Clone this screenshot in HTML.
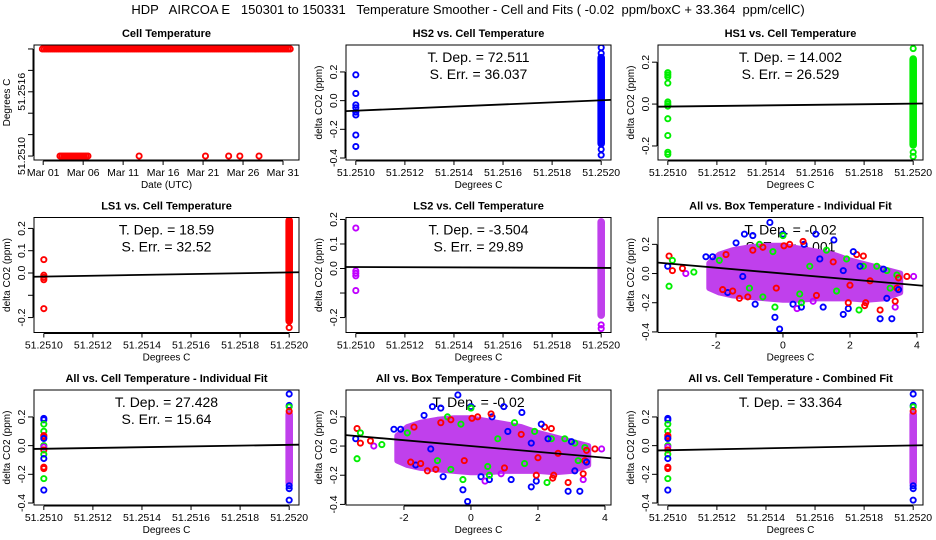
<!DOCTYPE html>
<html><head><meta charset="utf-8">
<style>
html,body{margin:0;padding:0;background:#fff;}
svg{display:block;font-family:"Liberation Sans",sans-serif;}
</style></head>
<body>
<svg id="chart" width="936" height="540" viewBox="0 0 936 540" xmlns="http://www.w3.org/2000/svg">
<rect x="0" y="0" width="936" height="540" fill="#fff"/>
<text x="468" y="14" font-size="13" text-anchor="middle" xml:space="preserve">HDP   AIRCOA E   150301 to 150331   Temperature Smoother - Cell and Fits ( -0.02  ppm/boxC + 33.364  ppm/cellC)</text>
</svg>
<script>
// ---------- data ----------
const cellXTicks = [51.2510, 51.2512, 51.2514, 51.2516, 51.2518, 51.2520];
const cellXTickLabels = ["51.2510","51.2512","51.2514","51.2516","51.2518","51.2520"];
const dateTicks = [0, 5, 10, 15, 20, 25, 30];
const dateTickLabels = ["Mar 01","Mar 06","Mar 11","Mar 16","Mar 21","Mar 26","Mar 31"];
const cellTempYTicks = [51.2510, 51.2512, 51.2514, 51.2516, 51.2518, 51.2520];
const cellTempYTickLabels = ["51.2510","","","51.2516","",""];
// runs of constant cell temperature: [startDay, endDay, value]
const cellTempRuns = [[-0.1, 31.1, 51.2520], [2.1, 5.6, 51.2510]];
const cellTempSingleDays = [12.0, 20.3, 23.2, 24.6, 27.0];
const cellTempSingleValue = 51.2510;

const boxXTicks = [-2, 0, 2, 4];
const boxXTickLabels = ["-2","0","2","4"];

// HS2
const hs2LeftY = [0.18, 0.05, -0.03, -0.05, -0.08, -0.1, -0.24, -0.32];
const hs2RightRange = [-0.3, 0.3];
const hs2RightOut = [0.37, 0.33, -0.34, -0.38];
// HS1
const hs1LeftY = [0.15, 0.14, 0.13, 0.1, 0.01, 0.0, -0.01, -0.07, -0.15, -0.23, -0.24];
const hs1RightRange = [-0.195, 0.215];
const hs1RightOut = [0.265, -0.23, -0.25];
// LS1
const ls1LeftY = [0.06, -0.01, -0.02, -0.03, -0.16];
const ls1RightRange = [-0.215, 0.235];
const ls1RightOut = [-0.245];
// LS2
const ls2LeftY = [0.165, -0.01, -0.02, -0.03, -0.09];
const ls2RightRange = [-0.19, 0.19];
const ls2RightOut = [-0.23, -0.245];
// All vs cell (individual & combined)
const allLeftY = [0.19, 0.18, 0.15, 0.1, 0.07, 0.06, 0.05, 0.0, -0.01, -0.03, -0.06, -0.09, -0.15, -0.16, -0.23, -0.31];
const allLeftC = ["b","b","g","g","r","r","b","g","m","r","g","b","r","r","g","b"];
const allRightRange = [-0.26, 0.22];
const allRightOut = [0.36, 0.28, 0.27, 0.24, -0.28, -0.3, -0.38];
const allRightOutC = ["b","b","g","r","b","b","b"];

// scatter vs box temperature
const cloudX   = [-2.2, -1.9, -1.5, -1.0, -0.5, 0.0, 0.5, 1.0, 1.5, 2.0, 2.5, 3.0, 3.5];
const cloudTop = [0.07, 0.13, 0.16, 0.18, 0.19, 0.19, 0.17, 0.15, 0.13, 0.09, 0.06, 0.03, 0.0];
const cloudBot = [-0.1, -0.13, -0.15, -0.16, -0.17, -0.18, -0.18, -0.17, -0.17, -0.17, -0.18, -0.17, -0.13];
const scatX = [-3.4,-3.44,-3.3,-3.3,-2.9,-3.0,-2.66,-3.4,-2.3,-2.1,-0.39,-1.15,-0.9,0.0,0.98,1.52,0.63,-1.4,0.0,-0.7,0.6,0.03,
  -0.1,-0.24,-0.24,-0.83,0.3,0.42,0.55,0.55,1.2,0.9,1.8,1.95,1.95,2.27,2.47,2.44,2.9,2.9,3.25,3.35,3.35,3.1,
  -1.3,-1.05,-0.6,-1.65,2.8,3.1,3.0,3.4,3.9,3.7,3.45,3.4,3.45,3.2,2.2,2.4,2.4,1.9,2.1,
  -1.7,-1.9,-1.5,-0.6,-0.3,0.2,1.0,1.3,1.5,1.6,-1.2,-0.2,0.8,2.3,2.6,1.8,-1.0,2.0,-1.8,0.5,1.1,-0.9];
const scatY = [0.12,0.05,0.09,0.02,0.0,0.035,0.01,-0.087,0.115,0.115,0.35,0.27,0.26,0.27,0.27,0.23,0.2,0.21,0.26,0.2,0.22,0.19,
  -0.38,-0.3,-0.23,-0.21,-0.21,-0.24,-0.23,-0.2,-0.23,-0.19,-0.28,-0.24,-0.2,-0.25,-0.2,-0.22,-0.25,-0.31,-0.31,-0.23,-0.19,-0.17,
  -0.17,-0.16,-0.16,-0.13,0.05,0.02,0.03,-0.01,-0.02,-0.02,-0.03,-0.1,-0.11,-0.1,0.13,0.12,0.05,0.1,0.15,
  0.13,0.09,-0.12,0.18,0.15,0.2,-0.15,0.16,0.08,-0.12,-0.02,-0.1,0.05,0.05,-0.05,0.02,-0.1,-0.08,-0.11,-0.14,0.1,0.16];
const scatC = ["r","b","g","r","m","r","g","g","b","b","b","b","b","b","b","b","b","b","g","g","r","r",
  "b","b","g","b","b","m","b","g","b","m","b","b","r","g","r","r","r","b","b","m","r","b",
  "r","r","g","b","g","g","b","g","m","r","r","r","b","g","r","r","g","g","b",
  "r","g","r","r","g","r","r","g","r","g","b","r","g","b","r","b","g","r","r","g","b","r"];

// fits: [slope per unit x, value at reference x]
const fitHS2 = [72.511, -0.07];
const fitHS1 = [14.002, -0.012];
const fitLS1 = [18.59, -0.016];
const fitLS2 = [-3.504, 0.006];
const fitAllInd = [27.428, -0.022];
const fitBoxInd = [-0.02, 0.0];
const fitBoxComb = [-0.02, 0.0];
const fitAllComb = [33.364, -0.032];

// ---------- rendering ----------
const NS = "http://www.w3.org/2000/svg";
const svg = document.getElementById("chart");
const COL = {r:"#ff0000", g:"#00ee00", b:"#0000ff", m:"#c000ff"};
const CLOUD = "#c040ec";

function mk(tag, attrs, parent) {
  const e = document.createElementNS(NS, tag);
  for (const k in attrs) e.setAttribute(k, attrs[k]);
  (parent || svg).appendChild(e);
  return e;
}

function panel(c, r, opt) {
  const L = 34 + 312 * c, R = 299 + 312 * c, T = 45 + 172.5 * r, B = 160 + 172.5 * r;
  const g = mk("g", {});
  
  
  const sx = v => L + (v - opt.xlim[0]) / (opt.xlim[1] - opt.xlim[0]) * (R - L);
  const sy = v => B - (v - opt.ylim[0]) / (opt.ylim[1] - opt.ylim[0]) * (B - T);
  const cx = (L + R) / 2, cy = (T + B) / 2;
  const t = mk("text", {x: cx, y: T - 8, "font-size": 11, "font-weight": "bold", "text-anchor": "middle"}, g);
  t.textContent = opt.title;
  
  
  const xa = mk("g", {}, g);
  
  
  const xt0 = sx(opt.xticks[0]), xt1 = sx(opt.xticks[opt.xticks.length - 1]);
  mk("line", {x1: xt0, x2: xt1, y1: B + 1, y2: B + 1, stroke: "#000", "stroke-width": 1}, xa);
  opt.xticks.forEach((v, i) => {
    const x = sx(v);
    mk("line", {x1: x, x2: x, y1: B + 1, y2: B + 5, stroke: "#000"}, xa);
    const tl = mk("text", {x: x, y: B + 16, "font-size": 10.5, "text-anchor": "middle"}, xa);
    tl.textContent = opt.xlabels[i];
    
    
  });
  const xl = mk("text", {x: cx, y: B + 28, "font-size": 10, "text-anchor": "middle"}, g);
  xl.textContent = opt.xtitle;
  
  
  const ya = mk("g", {}, g);
  
  
  const yt0 = sy(opt.yticks[0]), yt1 = sy(opt.yticks[opt.yticks.length - 1]);
  mk("line", {x1: L - 1, x2: L - 1, y1: yt0, y2: yt1, stroke: "#000"}, ya);
  opt.yticks.forEach((v, i) => {
    const y = sy(v);
    mk("line", {x1: L - 6, x2: L - 1, y1: y, y2: y, stroke: "#000"}, ya);
    if (opt.ylabels[i]) {
      const tl = mk("text", {x: L - 9, y: y, "font-size": 10.5, "text-anchor": "middle", transform: `rotate(-90 ${L - 9} ${y})`}, ya);
      tl.textContent = opt.ylabels[i];
      
      
    }
  });
  const yl = mk("text", {x: L - 24, y: cy, "font-size": 10, "text-anchor": "middle", transform: `rotate(-90 ${L - 24} ${cy})`}, g);
  yl.textContent = opt.ytitle;
  
  
  (opt.notes || []).forEach((s, i) => {
    const n = mk("text", {x: cx, y: T + 17 + i * 17, "font-size": 14, "text-anchor": "middle"}, g);
    n.textContent = s;
    
    
  });
  const clipId = "clip" + c + r;
  const cp = mk("clipPath", {id: clipId}, g);
  mk("rect", {x: L, y: T, width: R - L, height: B - T}, cp);
  const plot = mk("g", {"clip-path": `url(#${clipId})`}, g);
  
  
  const frame = mk("rect", {x: L, y: T, width: R - L, height: B - T, fill: "none", stroke: "#000", "stroke-width": 1});
  g.appendChild(frame);
  
  
  return {g: plot, sx, sy, L, R, T, B};
}

function pt(p, x, y, col, name) {
  const e = mk("circle", {cx: p.sx(x), cy: p.sy(y), r: 2.6, fill: "none", stroke: col, "stroke-width": 1.9}, p.g);
  
  
}
function strip(p, x, range, col) {
  const y1 = p.sy(range[1]), y2 = p.sy(range[0]);
  const e = mk("rect", {x: p.sx(x) - 3.3, y: y1 - 3.3, width: 6.6, height: y2 - y1 + 6.6, rx: 3.3, fill: col, stroke: col, "stroke-width": 1}, p.g);
  
  
}
function fit(p, f, xref, xlim) {
  const y0 = f[1] + f[0] * (xlim[0] - xref), y1 = f[1] + f[0] * (xlim[1] - xref);
  const e = mk("line", {x1: p.sx(xlim[0]), y1: p.sy(y0), x2: p.sx(xlim[1]), y2: p.sy(y1), stroke: "#000", "stroke-width": 1.8}, p.g);
  
  
}

const cellXlim = [51.25096, 51.25204];
const boxXlim = [-3.73, 4.18];
const co2Ticks4 = [-0.4, -0.2, 0.0, 0.2], co2Labels4 = ["-0.4","-0.2","0.0","0.2"];

(function () {
  const p = panel(0, 0, {name: "cell-temperature-panel", title: "Cell Temperature", xlim: [-1.15, 32.0], ylim: [51.250963, 51.252037],
    xticks: dateTicks, xlabels: dateTickLabels, xtitle: "Date (UTC)", yticks: cellTempYTicks, ylabels: cellTempYTickLabels, ytitle: "Degrees C"});
  cellTempRuns.forEach(run => {
    for (let d = run[0]; d <= run[1] + 1e-9; d += 0.25) pt(p, d, run[2], COL.r, 'cell-temperature-point');
  });
  cellTempSingleDays.forEach(d => pt(p, d, cellTempSingleValue, COL.r, 'cell-temperature-point'));
})();

function cellPanel(c, r, name, title, ylim, yticks, ylabels, fitv, leftY, leftC, range, outY, outC, rangeCol, notes) {
  const p = panel(c, r, {name, title, xlim: cellXlim, ylim, xticks: cellXTicks, xlabels: cellXTickLabels, xtitle: "Degrees C", yticks, ylabels, ytitle: "delta CO2 (ppm)", notes});
  leftY.forEach((y, i) => pt(p, 51.2510, y, COL[Array.isArray(leftC) ? leftC[i] : leftC]));
  strip(p, 51.2520, range, rangeCol);
  outY.forEach((y, i) => pt(p, 51.2520, y, COL[Array.isArray(outC) ? outC[i] : outC]));
  fit(p, fitv, 51.2510, cellXlim);
}

cellPanel(1, 0, "hs2-panel", "HS2 vs. Cell Temperature", [-0.414, 0.388], co2Ticks4, co2Labels4, fitHS2,
  hs2LeftY, "b", hs2RightRange, hs2RightOut, "b", COL.b, ["T. Dep. =  72.511", "S. Err. =  36.037"]);
cellPanel(2, 0, "hs1-panel", "HS1 vs. Cell Temperature", [-0.267, 0.282], [-0.2, 0.0, 0.2], ["-0.2","0.0","0.2"], fitHS1,
  hs1LeftY, "g", hs1RightRange, hs1RightOut, "g", COL.g, ["T. Dep. =  14.002", "S. Err. =  26.529"]);
cellPanel(0, 1, "ls1-panel", "LS1 vs. Cell Temperature", [-0.267, 0.249], [-0.2, -0.1, 0.0, 0.1, 0.2], ["-0.2","","0.0","0.1","0.2"], fitLS1,
  ls1LeftY, "r", ls1RightRange, ls1RightOut, "r", COL.r, ["T. Dep. =  18.59", "S. Err. =  32.52"]);
cellPanel(1, 1, "ls2-panel", "LS2 vs. Cell Temperature", [-0.261, 0.208], [-0.2, -0.1, 0.0, 0.1, 0.2], ["-0.2","","0.0","0.1","0.2"], fitLS2,
  ls2LeftY, "m", ls2RightRange, ls2RightOut, "m", CLOUD, ["T. Dep. =  -3.504", "S. Err. =  29.89"]);
cellPanel(0, 2, "all-vs-cell-individual-panel", "All vs. Cell Temperature - Individual Fit", [-0.414, 0.388], co2Ticks4, co2Labels4, fitAllInd,
  allLeftY, allLeftC, allRightRange, allRightOut, allRightOutC, CLOUD, ["T. Dep. =  27.428", "S. Err. =  15.64"]);
cellPanel(2, 2, "all-vs-cell-combined-panel", "All vs. Cell Temperature - Combined Fit", [-0.414, 0.388], co2Ticks4, co2Labels4, fitAllComb,
  allLeftY, allLeftC, allRightRange, allRightOut, allRightOutC, CLOUD, ["T. Dep. =  33.364"]);

function boxPanel(c, r, name, title, fitv, notes) {
  const p = panel(c, r, {name, title, xlim: boxXlim, ylim: [-0.404, 0.384], xticks: boxXTicks, xlabels: boxXTickLabels, xtitle: "Degrees C",
    yticks: co2Ticks4, ylabels: co2Labels4, ytitle: "delta CO2 (ppm)", notes});
  let d = "";
  cloudX.forEach((x, i) => { d += (i ? "L" : "M") + p.sx(x).toFixed(1) + "," + p.sy(cloudTop[i]).toFixed(1); });
  for (let i = cloudX.length - 1; i >= 0; i--) d += "L" + p.sx(cloudX[i]).toFixed(1) + "," + p.sy(cloudBot[i]).toFixed(1);
  const cl = mk("path", {d: d + "Z", fill: CLOUD, stroke: CLOUD, "stroke-width": 6, "stroke-linejoin": "round"}, p.g);
  
  
  scatX.forEach((x, i) => pt(p, x, scatY[i], COL[scatC[i]]));
  fit(p, fitv, 0, boxXlim);
}
boxPanel(2, 1, "all-vs-box-individual-panel", "All vs. Box Temperature - Individual Fit", fitBoxInd, ["T. Dep. =  -0.02", "S. Err. =  0.001"]);
boxPanel(1, 2, "all-vs-box-combined-panel", "All vs. Box Temperature - Combined Fit", fitBoxComb, ["T. Dep. =  -0.02"]);
</script>
</body></html>
